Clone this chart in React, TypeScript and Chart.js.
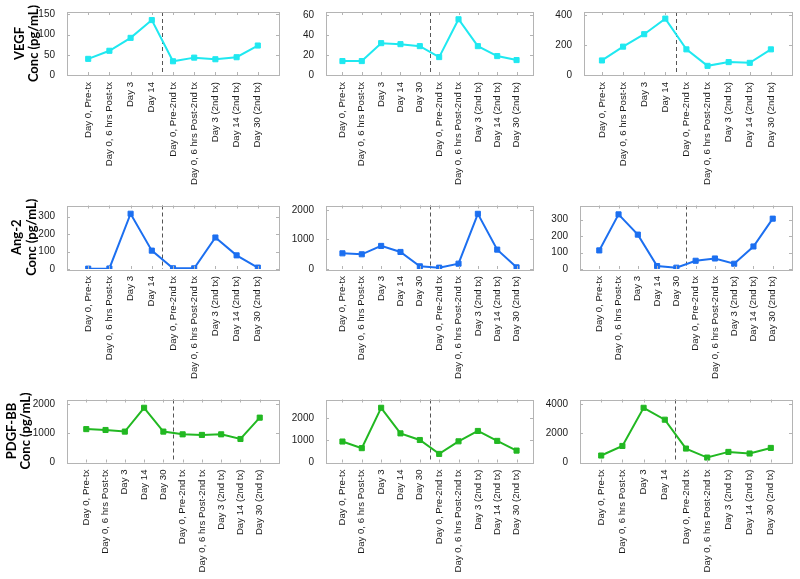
import React, { useEffect, useRef } from "react";
import { Chart, registerables } from "chart.js";

Chart.register(...registerables);

// ---------- data ----------
const categoriesShort = [
  "Day 0, Pre-tx",
  "Day 0, 6 hrs Post-tx",
  "Day 3",
  "Day 14",
  "Day 0, Pre-2nd tx",
  "Day 0, 6 hrs Post-2nd tx",
  "Day 3 (2nd tx)",
  "Day 14 (2nd tx)",
  "Day 30 (2nd tx)",
];
const categoriesFull = [
  "Day 0, Pre-tx",
  "Day 0, 6 hrs Post-tx",
  "Day 3",
  "Day 14",
  "Day 30",
  "Day 0, Pre-2nd tx",
  "Day 0, 6 hrs Post-2nd tx",
  "Day 3 (2nd tx)",
  "Day 14 (2nd tx)",
  "Day 30 (2nd tx)",
];

const vegfA = [40, 60, 92, 136, 34, 43, 39, 44, 73];
const vegfB = [14, 14, 32, 31, 29, 18, 56, 29, 19, 15];
const vegfC = [97, 189, 272, 376, 171, 61, 86, 81, 171];

const ang2A = [2, 3, 316, 105, 4, 4, 180, 78, 8];
const ang2B = [530, 497, 780, 576, 90, 45, 180, 1865, 655, 56];
const ang2C = [113, 332, 209, 18, 8, 50, 64, 32, 137, 306];

const pdgfA = [1150, 1120, 1065, 1885, 1065, 970, 950, 970, 810, 1545];
const pdgfB = [950, 650, 2480, 1320, 1020, 390, 960, 1430, 980, 540];
const pdgfC = [480, 1140, 3770, 2950, 960, 340, 730, 620, 1005];

const rowNames = ["VEGF", "Ang-2", "PDGF-BB"];
const unitLabel = "Conc (pg/mL)";
const yStepSizes = [
  [50, 20, 200],
  [100, 1000, 100],
  [1000, 1000, 2000],
];
const yMaxLimits = [
  [156, 63.3, 420],
  [363, 2146, 386],
  [2170, 2856, 4342],
];

// ---------- layout / style ----------
const ROW_COLORS = ["#1fe8f0", "#1c6ff0", "#22b822"];
const COLS = [
  { cx: 0, cw: 290, L: 67, R: 279 },
  { cx: 290, cw: 255, L: 326, R: 533 },
  { cx: 545, cw: 255, L: 580, R: 792 },
];
const ROWS = [
  { cy: 0, ch: 190, T: 12, B: 75, titlePad: 12.5 },
  { cy: 190, ch: 195, T: 205.5, B: 269, titlePad: 10 },
  { cy: 385, ch: 194, T: 399.5, B: 462.5, titlePad: 4.5 },
];
const TICK_FONT = "'Liberation Sans', Arial, sans-serif";

type Panel = {
  row: number;
  col: number;
  cats: string[];
  values: number[];
  left?: number;
  xMin?: number;
};

const panels: Panel[] = [
  { row: 0, col: 0, cats: categoriesShort, values: vegfA },
  { row: 0, col: 1, cats: categoriesFull, values: vegfB },
  { row: 0, col: 2, cats: categoriesShort, values: vegfC, left: 584, xMin: 0.15 },
  { row: 1, col: 0, cats: categoriesShort, values: ang2A },
  { row: 1, col: 1, cats: categoriesFull, values: ang2B },
  { row: 1, col: 2, cats: categoriesFull, values: ang2C },
  { row: 2, col: 0, cats: categoriesFull, values: pdgfA },
  { row: 2, col: 1, cats: categoriesFull, values: pdgfB },
  { row: 2, col: 2, cats: categoriesShort, values: pdgfC },
];

function xRange(p: Panel): [number, number] {
  const n = p.cats.length;
  if (p.col === 1) return [0.15, n + 0.85];
  return [p.xMin ?? 0, n + 1];
}

const framePlugin = {
  id: "frame",
  beforeDatasetsDraw(chart: any, _args: any, opts: any) {
    const { ctx, chartArea } = chart;
    const x = chart.scales.x.getPixelForValue(opts.divider);
    ctx.save();
    ctx.strokeStyle = "#555555";
    ctx.lineWidth = 1;
    ctx.setLineDash([4, 3]);
    ctx.beginPath();
    ctx.moveTo(Math.round(x) + 0.5, chartArea.top);
    ctx.lineTo(Math.round(x) + 0.5, chartArea.bottom);
    ctx.stroke();
    ctx.restore();
  },
  afterDraw(chart: any) {
    const { ctx, chartArea } = chart;
    const { left, right, top, bottom } = chartArea;
    ctx.save();
    ctx.strokeStyle = "#b4b4b4";
    ctx.lineWidth = 1;
    ctx.setLineDash([]);
    ctx.strokeRect(Math.round(left) + 0.5, Math.round(top) + 0.5, Math.round(right - left), Math.round(bottom - top));
    const tl = 3;
    ctx.beginPath();
    for (const t of chart.scales.x.ticks) {
      const px = Math.round(chart.scales.x.getPixelForValue(t.value)) + 0.5;
      ctx.moveTo(px, bottom);
      ctx.lineTo(px, bottom - tl);
      ctx.moveTo(px, top);
      ctx.lineTo(px, top + tl);
    }
    for (const t of chart.scales.y.ticks) {
      const py = Math.round(chart.scales.y.getPixelForValue(t.value)) + 0.5;
      ctx.moveTo(left, py);
      ctx.lineTo(left + tl, py);
      ctx.moveTo(right, py);
      ctx.lineTo(right - tl, py);
    }
    ctx.stroke();
    ctx.restore();
  },
};

export default function App() {
  const refs = useRef<(HTMLCanvasElement | null)[]>([]);

  useEffect(() => {
    const charts: Chart[] = [];
    panels.forEach((p, idx) => {
      const canvas = refs.current[idx];
      if (!canvas) return;
      const c = COLS[p.col];
      const r = ROWS[p.row];
      const L = p.left ?? c.L;
      const [xmin, xmax] = xRange(p);
      const step = yStepSizes[p.row][p.col];
      const ymax = yMaxLimits[p.row][p.col];
      const divider = p.cats.indexOf("Day 0, Pre-2nd tx") + 1 - 0.5;
      const color = ROW_COLORS[p.row];
      const cats = p.cats;
      const chart = new Chart(canvas, {
        type: "line",
        data: {
          datasets: [
            {
              data: p.values.map((v, i) => ({ x: i + 1, y: v })),
              borderColor: color,
              backgroundColor: color,
              borderWidth: 2,
              pointStyle: "rect",
              pointRadius: 3.6,
              pointBorderWidth: 1,
              pointBackgroundColor: color,
              pointBorderColor: color,
              tension: 0,
            },
          ],
        },
        options: {
          animation: false,
          responsive: false,
          devicePixelRatio: 1,
          events: [],
          layout: {
            padding: { left: 0, top: r.T - r.cy, right: c.cx + c.cw - c.R, bottom: 0 },
          },
          plugins: {
            legend: { display: false },
            tooltip: { enabled: false },
            frame: { divider },
          } as any,
          scales: {
            x: {
              type: "linear",
              min: xmin,
              max: xmax,
              grid: { display: false },
              border: { display: false },
              afterBuildTicks: (s: any) => {
                s.ticks = cats.map((_, i) => ({ value: i + 1 }));
              },
              ticks: {
                autoSkip: false,
                minRotation: 90,
                maxRotation: 90,
                padding: -1,
                color: "#1a1a1a",
                font: { family: TICK_FONT, size: 9.6 },
                callback: (v: any) => cats[Math.round(Number(v)) - 1] ?? "",
              },
              afterFit: (s: any) => {
                s.height = r.cy + r.ch - r.B;
                s.paddingLeft = 0;
                s.paddingRight = 0;
              },
            },
            y: {
              type: "linear",
              min: 0,
              max: ymax,
              grid: { display: false },
              border: { display: false },
              afterBuildTicks: (s: any) => {
                const list: { value: number }[] = [];
                for (let v = 0; v <= ymax + 1e-9; v += step) list.push({ value: v });
                s.ticks = list;
              },
              ticks: {
                autoSkip: false,
                padding: 4,
                color: "#1a1a1a",
                font: { family: TICK_FONT, size: 10 },
                callback: (v: any) => String(v),
              },
              title: {
                display: p.col === 0,
                text: [rowNames[p.row], unitLabel],
                color: "#000",
                font: { family: "Lato, 'Liberation Sans', sans-serif", size: 13, weight: "bold", lineHeight: "14.5px" },
                padding: { top: r.titlePad, bottom: 0 },
              },
              afterFit: (s: any) => {
                s.width = L - c.cx;
                s.paddingTop = 0;
                s.paddingBottom = 0;
              },
            },
          },
        },
        plugins: [framePlugin as any],
      });
      charts.push(chart);
    });
    return () => charts.forEach((ch) => ch.destroy());
  }, []);

  return (
    <div style={{ position: "absolute", left: 0, top: 0, width: 800, height: 579, background: "#fff" }}>
      {panels.map((p, idx) => {
        const c = COLS[p.col];
        const r = ROWS[p.row];
        return (
          <canvas
            key={idx}
            ref={(el) => {
              refs.current[idx] = el;
            }}
            width={c.cw}
            height={r.ch}
            style={{ position: "absolute", left: c.cx, top: r.cy, width: c.cw, height: r.ch, display: "block" }}
          />
        );
      })}
    </div>
  );
}
